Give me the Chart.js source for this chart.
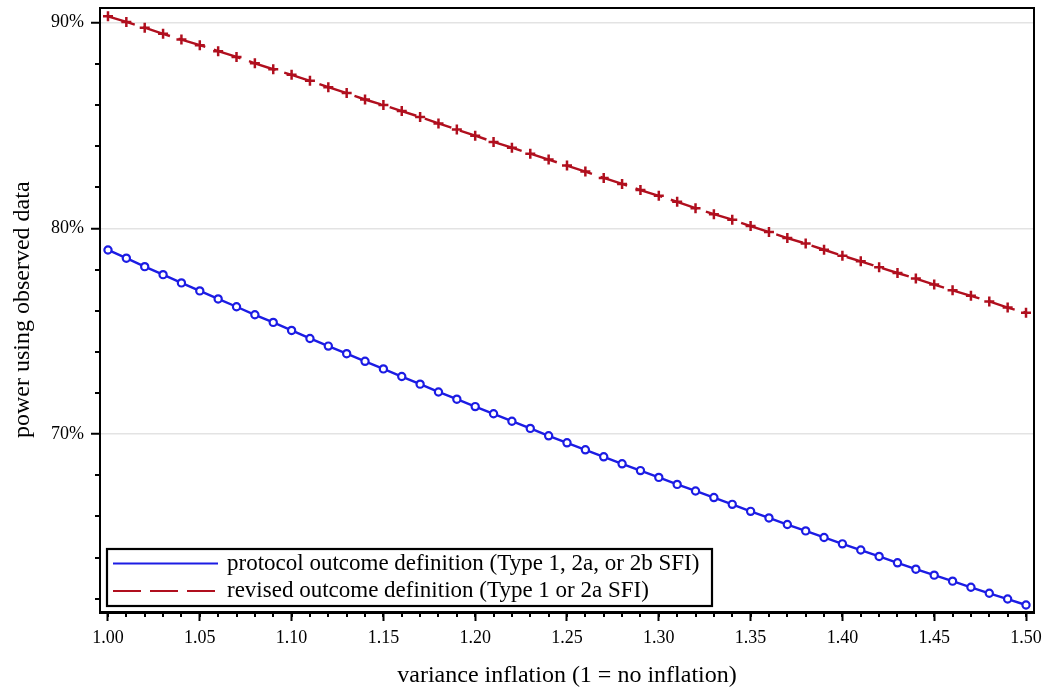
<!DOCTYPE html>
<html><head><meta charset="utf-8">
<script src="https://cdn.jsdelivr.net/npm/chart.js@4"></script>
<style>html,body{margin:0;padding:0;background:#fff}#wrap{width:1050px;height:693px;position:relative}</style>
</head><body><div id="wrap"><canvas id="c" width="1050" height="693"></canvas></div>
<script>
const varianceInflation = [1.00,1.01,1.02,1.03,1.04,1.05,1.06,1.07,1.08,1.09,1.10,1.11,1.12,1.13,1.14,1.15,1.16,1.17,1.18,1.19,1.20,1.21,1.22,1.23,1.24,1.25,1.26,1.27,1.28,1.29,1.30,1.31,1.32,1.33,1.34,1.35,1.36,1.37,1.38,1.39,1.40,1.41,1.42,1.43,1.44,1.45,1.46,1.47,1.48,1.49,1.50];
const protocolPower = [78.95,78.55,78.14,77.75,77.35,76.96,76.57,76.19,75.80,75.43,75.04,74.65,74.28,73.91,73.54,73.17,72.80,72.43,72.05,71.70,71.34,70.99,70.63,70.28,69.92,69.58,69.24,68.90,68.56,68.23,67.90,67.56,67.24,66.92,66.59,66.25,65.93,65.61,65.30,64.98,64.67,64.37,64.06,63.75,63.44,63.15,62.86,62.56,62.27,61.99,61.70];
const revisedPower = [90.30,90.03,89.75,89.45,89.17,88.90,88.61,88.33,88.02,87.73,87.46,87.17,86.86,86.57,86.26,85.99,85.70,85.41,85.10,84.80,84.50,84.20,83.92,83.63,83.34,83.05,82.76,82.45,82.16,81.86,81.58,81.29,80.98,80.69,80.42,80.11,79.82,79.53,79.26,78.96,78.67,78.40,78.11,77.83,77.56,77.27,76.99,76.72,76.45,76.15,75.90];
const seriesLabels = ['protocol outcome definition (Type 1, 2a, or 2b SFI)', 'revised outcome definition (Type 1 or 2a SFI)'];
const xTickValues = [1.00,1.05,1.10,1.15,1.20,1.25,1.30,1.35,1.40,1.45,1.50];
const yTickValues = [70,80,90];
const xMinorTicks = varianceInflation;
const yMinorTicks = [62,64,66,68,72,74,76,78,82,84,86,88];
const xTitle = 'variance inflation (1 = no inflation)';
const yTitle = 'power using observed data';

const FONT = "'Liberation Serif', 'Times New Roman', serif";
const BLUE = '#1c1ce4';
const RED = '#b00f1e';

const framePlugin = {
  id: 'frame',
  afterDraw(chart) {
    const {ctx, chartArea: a, scales: {x, y}} = chart;
    ctx.save();
    ctx.strokeStyle = '#000';
    ctx.lineWidth = 2;
    ctx.setLineDash([]);
    ctx.strokeRect(Math.round(a.left), Math.round(a.top), Math.round(a.right - a.left), Math.round(a.bottom - a.top));
    ctx.beginPath();
    xMinorTicks.forEach(v => {
      const px = Math.round(x.getPixelForValue(v));
      ctx.moveTo(px, a.bottom); ctx.lineTo(px, a.bottom + 5);
    });
    yMinorTicks.forEach(v => {
      const py = Math.round(y.getPixelForValue(v));
      ctx.moveTo(a.left, py); ctx.lineTo(a.left - 5, py);
    });
    ctx.stroke();
    // legend
    const lx = 107, ly = 549, lw = 605, lh = 57;
    ctx.fillStyle = '#fff';
    ctx.fillRect(lx, ly, lw, lh);
    ctx.lineWidth = 2.2;
    ctx.strokeRect(lx, ly, lw, lh);
    const rows = [563.5, 591];
    chart.data.datasets.forEach((ds, i) => {
      ctx.save();
      ctx.strokeStyle = ds.borderColor;
      ctx.lineWidth = 2.2;
      ctx.setLineDash(ds.borderDash || []);
      ctx.beginPath();
      ctx.moveTo(113, rows[i]); ctx.lineTo(218, rows[i]);
      ctx.stroke();
      ctx.restore();
      ctx.fillStyle = '#000';
      ctx.font = '23px ' + FONT;
      ctx.textBaseline = 'middle';
      ctx.textAlign = 'left';
      ctx.fillText(ds.label, 227, rows[i]);
    });
    ctx.restore();
  }
};

new Chart(document.getElementById('c'), {
  type: 'line',
  data: {
    datasets: [
      {
        label: seriesLabels[0],
        data: varianceInflation.map((v, i) => ({x: v, y: protocolPower[i]})),
        borderColor: BLUE, borderWidth: 2.4,
        pointStyle: 'circle', pointRadius: 3.6, pointBorderWidth: 2.2,
        pointBorderColor: BLUE, pointBackgroundColor: '#fff',
        tension: 0, fill: false
      },
      {
        label: seriesLabels[1],
        data: varianceInflation.map((v, i) => ({x: v, y: revisedPower[i]})),
        borderColor: RED, borderWidth: 2.4, borderDash: [28, 9],
        pointStyle: 'cross', pointRadius: 5, pointBorderWidth: 2.5,
        pointBorderColor: RED, pointBackgroundColor: RED,
        tension: 0, fill: false
      }
    ]
  },
  options: {
    responsive: false,
    animation: false,
    devicePixelRatio: 1,
    layout: {padding: {top: 6, right: 16, left: 0, bottom: 0}},
    plugins: {legend: {display: false}, tooltip: {enabled: false}},
    scales: {
      x: {
        type: 'linear', min: 0.99565, max: 1.50435,
        afterBuildTicks: s => { s.ticks = xTickValues.map(v => ({value: v})); },
        afterFit: s => { s.height = 81; s.paddingLeft = 0; s.paddingRight = 0; },
        ticks: {color: '#000', font: {family: FONT, size: 18}, padding: 6, maxRotation: 0, autoSkip: false,
          callback: v => Number(v).toFixed(2)},
        grid: {drawOnChartArea: false, drawTicks: true, tickLength: 9, tickColor: '#000', tickWidth: 2},
        border: {display: true, color: '#000', width: 2},
        title: {display: true, text: xTitle, color: '#000', font: {family: FONT, size: 24, lineHeight: 1.2}, padding: {top: 0, bottom: 3}}
      },
      y: {
        type: 'linear', min: 61.36, max: 90.73,
        afterBuildTicks: s => { s.ticks = yTickValues.map(v => ({value: v})); },
        afterFit: s => { s.width = 100; s.paddingTop = 0; s.paddingBottom = 0; },
        ticks: {color: '#000', font: {family: FONT, size: 18}, padding: 7, autoSkip: false,
          callback: v => v + '%'},
        grid: {drawOnChartArea: true, color: '#e3e3e3', lineWidth: 1.5, drawTicks: true, tickLength: 9, tickColor: '#000', tickWidth: 2},
        border: {display: true, color: '#000', width: 2},
        title: {display: true, text: yTitle, color: '#000', font: {family: FONT, size: 24, lineHeight: 1.2}, padding: {top: 8, bottom: 0}}
      }
    }
  },
  plugins: [framePlugin]
});
</script></body></html>
